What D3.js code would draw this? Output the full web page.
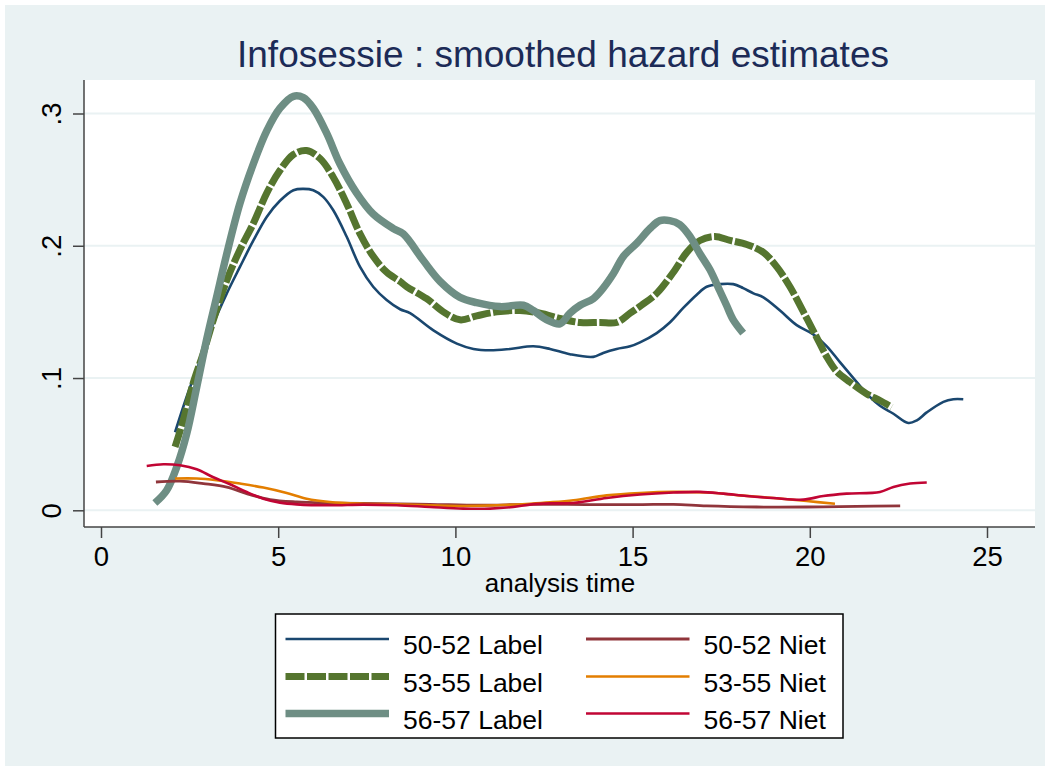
<!DOCTYPE html>
<html>
<head>
<meta charset="utf-8">
<script src="https://cdn.jsdelivr.net/npm/d3@7"></script>
<style>
  html, body { margin: 0; padding: 0; background: #fff; }
  svg text { font-family: "Liberation Sans", Arial, sans-serif; }
</style>
</head>
<body>
<svg id="chart" width="1050" height="771"></svg>
<script>
// smoothed hazard estimates as [analysis time, hazard]
const label5052 = [[2.09,0.059],[2.42,0.086],[2.79,0.113],[3.17,0.141],[3.55,0.164],[3.92,0.184],[4.30,0.204],[4.68,0.222],[5.05,0.234],[5.43,0.242],[5.71,0.243],[5.99,0.242],[6.27,0.237],[6.55,0.227],[6.93,0.207],[7.31,0.184],[7.68,0.169],[8.06,0.159],[8.44,0.152],[8.72,0.149],[9.38,0.136],[10.04,0.126],[10.51,0.122],[10.98,0.121],[11.54,0.122],[12.20,0.124],[12.67,0.122],[13.23,0.118],[13.89,0.116],[14.17,0.119],[14.55,0.122],[14.93,0.124],[15.21,0.127],[15.68,0.134],[16.05,0.142],[16.43,0.153],[16.81,0.163],[17.09,0.169],[17.46,0.171],[17.84,0.171],[18.12,0.168],[18.41,0.164],[18.69,0.161],[19.16,0.151],[19.63,0.140],[20.10,0.133],[20.48,0.124],[20.85,0.112],[21.23,0.100],[21.61,0.088],[21.98,0.079],[22.36,0.073],[22.78,0.066],[23.02,0.068],[23.30,0.074],[23.77,0.082],[24.05,0.084],[24.33,0.084]];
const label5355 = [[2.09,0.048],[2.32,0.068],[2.60,0.096],[2.89,0.119],[3.17,0.144],[3.55,0.174],[3.92,0.197],[4.30,0.217],[4.68,0.240],[5.05,0.257],[5.43,0.269],[5.80,0.272],[6.18,0.266],[6.55,0.252],[6.93,0.232],[7.31,0.209],[7.68,0.192],[8.06,0.180],[8.44,0.173],[8.63,0.169],[9.19,0.160],[9.66,0.150],[10.13,0.144],[10.60,0.147],[11.17,0.150],[11.82,0.151],[12.39,0.149],[12.95,0.145],[13.52,0.142],[14.08,0.142],[14.55,0.142],[14.93,0.149],[15.25,0.155],[15.68,0.164],[16.15,0.180],[16.53,0.195],[16.90,0.204],[17.32,0.207],[17.75,0.204],[18.22,0.201],[18.69,0.195],[19.07,0.184],[19.44,0.169],[19.82,0.150],[20.19,0.131],[20.48,0.116],[20.76,0.105],[21.13,0.097],[21.61,0.088],[21.98,0.083],[22.31,0.078]];
const label5657 = [[1.52,0.0055],[1.85,0.015],[2.14,0.033],[2.42,0.058],[2.70,0.093],[2.98,0.129],[3.26,0.161],[3.55,0.194],[3.92,0.232],[4.30,0.262],[4.68,0.287],[5.05,0.304],[5.43,0.313],[5.71,0.312],[5.99,0.304],[6.37,0.285],[6.74,0.262],[7.21,0.240],[7.68,0.224],[8.25,0.213],[8.53,0.209],[9.09,0.189],[9.57,0.173],[10.13,0.161],[10.60,0.157],[11.26,0.154],[11.92,0.155],[12.20,0.151],[12.58,0.144],[12.95,0.141],[13.23,0.149],[13.52,0.155],[13.89,0.160],[14.17,0.168],[14.46,0.179],[14.74,0.192],[15.12,0.202],[15.49,0.213],[15.77,0.219],[16.05,0.219],[16.33,0.216],[16.62,0.207],[16.90,0.194],[17.18,0.182],[17.46,0.166],[17.65,0.155],[17.84,0.144],[18.12,0.134]];
const niet5052 = [[1.55,0.0214],[2.23,0.022],[2.89,0.0202],[3.55,0.0176],[4.11,0.0126],[4.77,0.0081],[5.52,0.0063],[6.46,0.0055],[7.87,0.005],[9.28,0.0045],[10.69,0.0038],[12.10,0.0045],[13.80,0.0043],[15.21,0.0043],[16.15,0.0045],[17.09,0.0033],[18.50,0.0025],[19.91,0.0025],[21.32,0.003],[22.55,0.0033]];
const niet5355 = [[2.09,0.024],[2.70,0.024],[3.26,0.0227],[3.92,0.0202],[4.58,0.0172],[5.24,0.0131],[5.80,0.0088],[6.46,0.0063],[7.40,0.005],[8.34,0.0045],[9.28,0.0038],[10.22,0.0033],[11.17,0.0038],[12.10,0.005],[12.67,0.006],[13.33,0.0076],[14.27,0.0113],[15.21,0.0131],[16.15,0.0139],[17.09,0.0134],[18.03,0.0113],[18.97,0.0093],[19.91,0.007],[20.71,0.005]];
const niet5657 = [[1.29,0.0335],[1.76,0.0348],[2.23,0.034],[2.70,0.031],[3.17,0.025],[3.64,0.0197],[4.11,0.0138],[4.58,0.0088],[5.05,0.0058],[5.52,0.0045],[6.46,0.0038],[7.40,0.0043],[8.34,0.0038],[9.28,0.0025],[10.22,0.0013],[10.98,0.0013],[11.63,0.0025],[12.10,0.0043],[12.67,0.0052],[13.33,0.0055],[14.27,0.0093],[15.21,0.0119],[16.15,0.0134],[16.90,0.0139],[17.56,0.0126],[18.22,0.0108],[18.97,0.0093],[19.82,0.0081],[20.38,0.0108],[21.04,0.0126],[21.98,0.0139],[22.36,0.0177],[22.83,0.0202],[23.30,0.021]];

const seriesNames = ['50-52 Label', '53-55 Label', '56-57 Label', '50-52 Niet', '53-55 Niet', '56-57 Niet'];
const xTicks = [0, 5, 10, 15, 20, 25];
const yTicks = [0, 0.1, 0.2, 0.3];
const yTickLabels = ['0', '.1', '.2', '.3'];

const seriesData = [label5052, label5355, label5657, niet5052, niet5355, niet5657];
// stata s2color look
const styles = [
    { color: '#1a476f', width: 2.6, dash: null },
    { color: '#55752f', width: 7, dash: '19,2.5' },
    { color: '#6e8e84', width: 7.5, dash: null },
    { color: '#90353b', width: 2.8, dash: null },
    { color: '#e37e00', width: 2.6, dash: null },
    { color: '#c10534', width: 2.6, dash: null }
];

const svg = d3.select('#chart');
const bg = '#eaf2f3';

svg.append('rect').attr('x', 5).attr('y', 5).attr('width', 1040).attr('height', 761).attr('fill', bg);

const plot = { left: 84, right: 1035, top: 80, bottom: 527 };
svg.append('rect')
    .attr('x', plot.left).attr('y', plot.top)
    .attr('width', plot.right - plot.left).attr('height', plot.bottom - plot.top)
    .attr('fill', '#fff');

const x = d3.scaleLinear().domain([0, 25]).range([101, 987]);
const y = d3.scaleLinear().domain([0, 0.3]).range([510.3, 113.5]);

// gridlines
svg.append('g').selectAll('line').data(yTicks).enter().append('line')
    .attr('x1', plot.left).attr('x2', plot.right)
    .attr('y1', (d) => y(d)).attr('y2', (d) => y(d))
    .attr('stroke', bg).attr('stroke-width', 2);

// lines
const line = d3.line()
    .x((d) => x(d[0]))
    .y((d) => y(d[1]))
    .curve(d3.curveCatmullRom.alpha(0.5));

svg.append('g').selectAll('path').data(seriesData).enter().append('path')
    .attr('d', (d) => line(d))
    .attr('fill', 'none')
    .attr('stroke', (d, i) => styles[i].color)
    .attr('stroke-width', (d, i) => styles[i].width)
    .attr('stroke-dasharray', (d, i) => styles[i].dash)
    .attr('stroke-linejoin', 'round');

// axes
const xAxis = d3.axisBottom(x).tickValues(xTicks).tickSize(11).tickPadding(8).tickFormat(d3.format('d'));
const gx = svg.append('g').attr('transform', `translate(0,${plot.bottom})`).call(xAxis);
gx.select('.domain').attr('d', `M${plot.left},0H${plot.right}`).attr('stroke', '#444').attr('stroke-width', 1.5);
gx.selectAll('.tick line').attr('stroke', '#444').attr('stroke-width', 1.5);
gx.selectAll('.tick text').attr('font-size', 27.5).attr('fill', '#000')
    .attr('font-family', '"Liberation Sans", Arial, sans-serif');

const yAxis = d3.axisLeft(y).tickValues(yTicks).tickSize(11).tickFormat((d, i) => yTickLabels[i]);
const gy = svg.append('g').attr('transform', `translate(${plot.left},0)`).call(yAxis);
gy.select('.domain').attr('d', `M0,${plot.top}V${plot.bottom}`).attr('stroke', '#444').attr('stroke-width', 1.5);
gy.selectAll('.tick line').attr('stroke', '#444').attr('stroke-width', 1.5);
gy.selectAll('.tick text')
    .attr('font-size', 27.5).attr('fill', '#000')
    .attr('font-family', '"Liberation Sans", Arial, sans-serif')
    .attr('x', null).attr('dy', null)
    .attr('text-anchor', 'middle')
    .attr('transform', 'translate(-32,0) rotate(-90)')
    .attr('y', 9);

// titles
svg.append('text')
    .attr('x', 563).attr('y', 67)
    .attr('text-anchor', 'middle')
    .attr('font-size', 37)
    .attr('fill', '#1c2b57')
    .text('Infosessie : smoothed hazard estimates');

svg.append('text')
    .attr('x', 560).attr('y', 592)
    .attr('text-anchor', 'middle')
    .attr('font-size', 26)
    .attr('fill', '#000')
    .text('analysis time');

// legend
const legend = svg.append('g');
legend.append('rect')
    .attr('x', 275.5).attr('y', 614).attr('width', 567.5).attr('height', 124)
    .attr('fill', '#fff').attr('stroke', '#000').attr('stroke-width', 1.5);

const item = legend.selectAll('g.item').data(seriesNames).enter().append('g')
    .attr('class', 'item')
    .attr('transform', (d, i) => `translate(${i < 3 ? 285.5 : 586},${[639, 676.5, 713.5][i % 3]})`);

item.append('line')
    .attr('x1', 0).attr('x2', 103.5).attr('y1', 0).attr('y2', 0)
    .attr('stroke', (d, i) => styles[i].color)
    .attr('stroke-width', (d, i) => styles[i].width)
    .attr('stroke-dasharray', (d, i) => styles[i].dash);

item.append('text')
    .attr('x', 117.5)
    .attr('y', 15)
    .attr('font-size', 26.5)
    .attr('fill', '#000')
    .text((d) => d);
</script>
</body>
</html>
